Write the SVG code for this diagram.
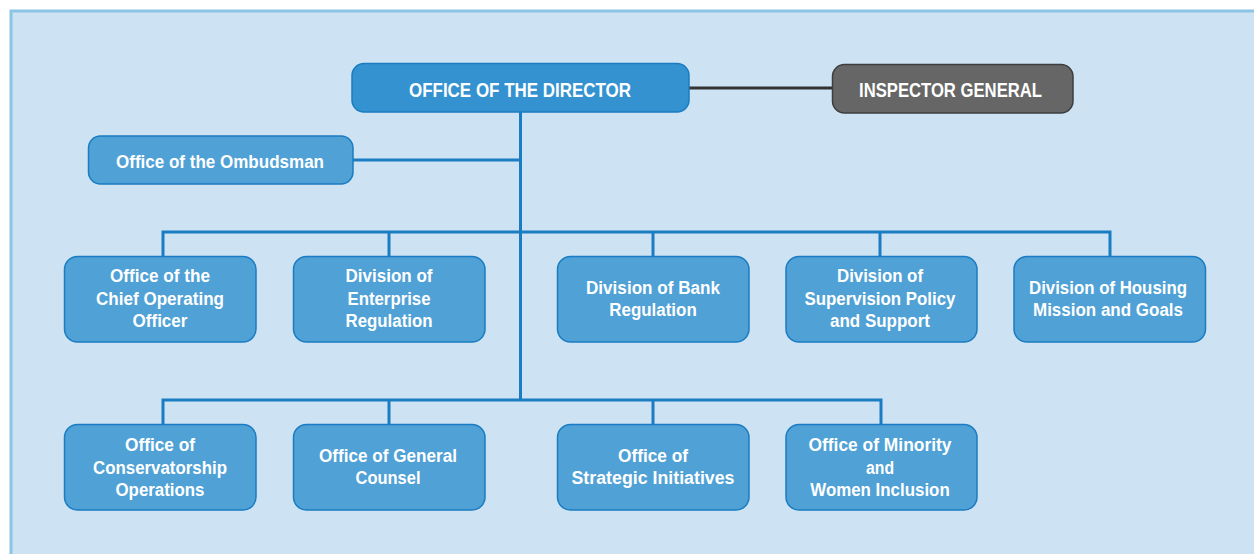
<svg xmlns="http://www.w3.org/2000/svg" width="1254" height="554" viewBox="0 0 1254 554">
<style>
.bg{fill:#cde3f3;stroke:#8cc4e6;stroke-width:3}
.box{fill:#4fa1d6;stroke:#1b7cc1;stroke-width:1.5}
.dir{fill:#3392cf;stroke:#1b7cc1;stroke-width:1.5}
.ig{fill:#666666;stroke:#3e3e3e;stroke-width:1.5}
.ln{stroke:#1a7cc3;stroke-width:3;fill:none}
.dk{stroke:#333333;stroke-width:3;fill:none}
text{font-family:"Liberation Sans",Arial,sans-serif;font-weight:bold;fill:#ffffff;text-anchor:middle;font-size:18.8px}
.big{font-size:20.5px}
</style>
<rect class="bg" x="11" y="11" width="1260" height="560"/>
<g id="connectors">
<line class="dk" x1="689" y1="88" x2="832" y2="88"/>
<line class="ln" x1="520.5" y1="112" x2="520.5" y2="400"/>
<line class="ln" x1="353" y1="160" x2="520.5" y2="160"/>
<polyline class="ln" points="163,256 163,232 1110,232 1110,256"/>
<line class="ln" x1="389" y1="232" x2="389" y2="256"/>
<line class="ln" x1="653" y1="232" x2="653" y2="256"/>
<line class="ln" x1="880" y1="232" x2="880" y2="256"/>
<polyline class="ln" points="163,424 163,400 881,400 881,424"/>
<line class="ln" x1="389" y1="400" x2="389" y2="424"/>
<line class="ln" x1="653" y1="400" x2="653" y2="424"/>
</g>
<g id="director">
<rect class="dir" x="352" y="63.5" width="337" height="48.5" rx="12"/>
<text class="big" x="520" y="97" textLength="222" lengthAdjust="spacingAndGlyphs">OFFICE OF THE DIRECTOR</text>
</g>
<g id="inspector">
<rect class="ig" x="832.5" y="64.5" width="240.5" height="48.5" rx="12"/>
<text class="big" x="950.5" y="97" textLength="183" lengthAdjust="spacingAndGlyphs">INSPECTOR GENERAL</text>
</g>
<g id="ombudsman">
<rect class="box" x="88.5" y="136" width="264.5" height="48" rx="12"/>
<text x="220" y="168" textLength="208" lengthAdjust="spacingAndGlyphs">Office of the Ombudsman</text>
</g>
<g id="coo">
<rect class="box" x="64.5" y="256.5" width="191.5" height="85.5" rx="13"/>
<text x="160" y="282" textLength="100" lengthAdjust="spacingAndGlyphs">Office of the</text>
<text x="160" y="304.5" textLength="128" lengthAdjust="spacingAndGlyphs">Chief Operating</text>
<text x="160" y="327" textLength="55" lengthAdjust="spacingAndGlyphs">Officer</text>
</g>
<g id="enterprise">
<rect class="box" x="293.5" y="256.5" width="191.5" height="85.5" rx="13"/>
<text x="389" y="282" textLength="87" lengthAdjust="spacingAndGlyphs">Division of</text>
<text x="389" y="304.5" textLength="83" lengthAdjust="spacingAndGlyphs">Enterprise</text>
<text x="389" y="327" textLength="87" lengthAdjust="spacingAndGlyphs">Regulation</text>
</g>
<g id="bank">
<rect class="box" x="557.5" y="256.5" width="191.5" height="85.5" rx="13"/>
<text x="653" y="294" textLength="134" lengthAdjust="spacingAndGlyphs">Division of Bank</text>
<text x="653" y="316" textLength="87.5" lengthAdjust="spacingAndGlyphs">Regulation</text>
</g>
<g id="supervision">
<rect class="box" x="786" y="256.5" width="191" height="85.5" rx="13"/>
<text x="880" y="282" textLength="86" lengthAdjust="spacingAndGlyphs">Division of</text>
<text x="880" y="304.5" textLength="151" lengthAdjust="spacingAndGlyphs">Supervision Policy</text>
<text x="880" y="327" textLength="100" lengthAdjust="spacingAndGlyphs">and Support</text>
</g>
<g id="housing">
<rect class="box" x="1014" y="256.5" width="191.5" height="85.5" rx="13"/>
<text x="1108" y="294" textLength="158" lengthAdjust="spacingAndGlyphs">Division of Housing</text>
<text x="1108" y="316" textLength="150" lengthAdjust="spacingAndGlyphs">Mission and Goals</text>
</g>
<g id="conservatorship">
<rect class="box" x="64.5" y="424.5" width="191.5" height="85.5" rx="13"/>
<text x="160" y="451" textLength="70" lengthAdjust="spacingAndGlyphs">Office of</text>
<text x="160" y="473.5" textLength="134" lengthAdjust="spacingAndGlyphs">Conservatorship</text>
<text x="160" y="496" textLength="89" lengthAdjust="spacingAndGlyphs">Operations</text>
</g>
<g id="counsel">
<rect class="box" x="293.5" y="424.5" width="191.5" height="85.5" rx="13"/>
<text x="388" y="462" textLength="138" lengthAdjust="spacingAndGlyphs">Office of General</text>
<text x="388" y="484" textLength="65" lengthAdjust="spacingAndGlyphs">Counsel</text>
</g>
<g id="strategic">
<rect class="box" x="557.5" y="424.5" width="191.5" height="85.5" rx="13"/>
<text x="653" y="462" textLength="70" lengthAdjust="spacingAndGlyphs">Office of</text>
<text x="653" y="484" textLength="163" lengthAdjust="spacingAndGlyphs">Strategic Initiatives</text>
</g>
<g id="minority">
<rect class="box" x="786" y="424.5" width="191" height="85.5" rx="13"/>
<text x="880" y="451" textLength="143" lengthAdjust="spacingAndGlyphs">Office of Minority</text>
<text x="880" y="473.5" textLength="28" lengthAdjust="spacingAndGlyphs">and</text>
<text x="880" y="496" textLength="139.5" lengthAdjust="spacingAndGlyphs">Women Inclusion</text>
</g>
</svg>
